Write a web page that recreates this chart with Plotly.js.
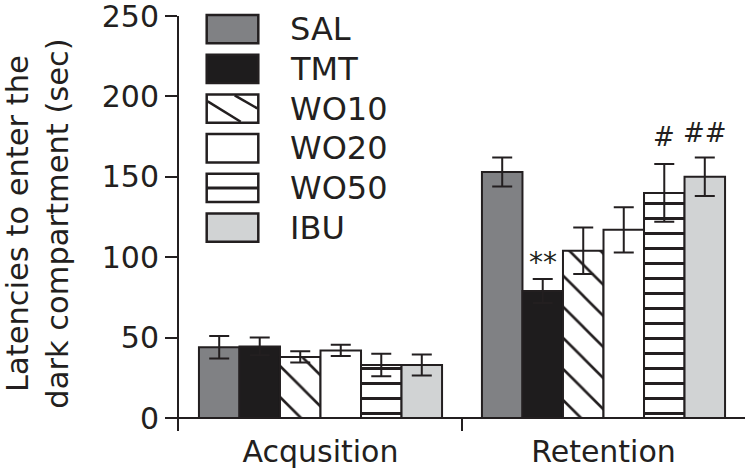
<!DOCTYPE html>
<html>
<head>
<meta charset="utf-8">
<script src="https://cdn.plot.ly/plotly-3.0.1.min.js"></script>
<style>html,body{margin:0;padding:0;background:#fff;}#chart{width:747px;height:472px;}</style>
</head>
<body>
<div id="chart"></div>
<script>
// ---- data ----
const categories = ['Acqusition', 'Retention'];
const groups = ['SAL', 'TMT', 'WO10', 'WO20', 'WO50', 'IBU'];
const SAL = [44, 153];
const SAL_err = [7, 9];
const TMT = [44.5, 79];
const TMT_err = [5.5, 7.5];
const WO10 = [38, 104];
const WO10_err = [3.5, 14.5];
const WO20 = [42, 117];
const WO20_err = [3.5, 14];
const WO50 = [33, 140];
const WO50_err = [7, 18];
const IBU = [33, 150];
const IBU_err = [6.5, 12];
const yTicks = [0, 50, 100, 150, 200, 250];
const sigLabels = ['**', '#', '##'];
const sigGroups = ['TMT', 'WO50', 'IBU'];
const sigCategory = ['Retention', 'Retention', 'Retention'];
const sigY = [97, 175, 177];

// ---- styling ----
const INK = '#231f20';
const FONT = 'DejaVu Sans, sans-serif';
const styles = {
  SAL:  {color: '#808184'},
  TMT:  {color: '#1e1c1d'},
  WO10: {color: '#ffffff', pattern: {shape: '\\', fgcolor: INK, bgcolor: '#ffffff', size: 22, solidity: 0.12, fillmode: 'replace'}},
  WO20: {color: '#ffffff'},
  WO50: {color: '#ffffff', pattern: {shape: '-', fgcolor: INK, bgcolor: '#ffffff', size: 15, solidity: 0.2, fillmode: 'replace'}},
  IBU:  {color: '#d1d3d4'}
};
const values = {SAL, TMT, WO10, WO20, WO50, IBU};
const errs = {SAL: SAL_err, TMT: TMT_err, WO10: WO10_err, WO20: WO20_err, WO50: WO50_err, IBU: IBU_err};

const traces = groups.map(g => {
  const m = {color: styles[g].color, line: {color: INK, width: 2}};
  if (styles[g].pattern) m.pattern = styles[g].pattern;
  return {
    type: 'bar', name: g, x: categories, y: values[g],
    marker: m,
    error_y: {type: 'data', array: errs[g], visible: true, color: INK, thickness: 2, width: 10},
    showlegend: false
  };
});

// plot area in pixels
const L = 179, R = 745, T = 16, B = 431;
const W = 747, H = 472;
const px2x = p => (p - L) / (R - L);
const py2y = p => (B - p) / (B - T);

const bargap = 0.141;
const barW = (1 - bargap) / groups.length;

const annotations = sigLabels.map((t, i) => ({
  xref: 'x', yref: 'y',
  x: categories.indexOf(sigCategory[i]) + (groups.indexOf(sigGroups[i]) - (groups.length - 1) / 2) * barW,
  y: sigY[i], text: t, showarrow: false,
  font: {family: FONT, size: t === '**' ? 28 : 26, color: INK},
  xanchor: 'center', yanchor: 'middle'
}));

// custom legend (large swatches like the reference)
const shapes = [];
const boxX0 = 206.7, boxX1 = 258.3, rowTop = 15, rowStep = 39.7, boxH = 28.3;
groups.forEach((g, i) => {
  const y0 = rowTop + i * rowStep, y1 = y0 + boxH;
  shapes.push({type: 'rect', xref: 'paper', yref: 'paper',
    x0: px2x(boxX0), x1: px2x(boxX1), y0: py2y(y1), y1: py2y(y0),
    fillcolor: styles[g].color, line: {color: INK, width: 2.5}});
  if (g === 'WO10') {
    shapes.push({type: 'line', xref: 'paper', yref: 'paper',
      x0: px2x(boxX0 + 1), y0: py2y(y0 + 7), x1: px2x(boxX0 + 34), y1: py2y(y1 - 1),
      line: {color: INK, width: 2.5}});
    shapes.push({type: 'line', xref: 'paper', yref: 'paper',
      x0: px2x(boxX0 + 28), y0: py2y(y0 + 1), x1: px2x(boxX1 - 1), y1: py2y(y0 + 14),
      line: {color: INK, width: 2.5}});
  }
  if (g === 'WO50') {
    shapes.push({type: 'line', xref: 'paper', yref: 'paper',
      x0: px2x(boxX0), y0: py2y(y0 + boxH / 2), x1: px2x(boxX1), y1: py2y(y0 + boxH / 2),
      line: {color: INK, width: 3}});
  }
  annotations.push({xref: 'paper', yref: 'paper', x: px2x(288), y: py2y(y0 + boxH / 2),
    text: g, showarrow: false, xanchor: 'left', yanchor: 'middle',
    font: {family: FONT, size: 32, color: INK}});
});

const layout = {
  width: W, height: H,
  margin: {l: L, r: W - R, t: T, b: H - B, pad: 0},
  paper_bgcolor: '#ffffff', plot_bgcolor: '#ffffff',
  barmode: 'group', bargap: bargap, bargroupgap: 0,
  showlegend: false,
  font: {family: FONT, size: 30, color: INK},
  xaxis: {
    type: 'category', showgrid: false, showline: false, zeroline: false,
    ticks: 'inside', tickson: 'boundaries', ticklen: 13, tickwidth: 2, tickcolor: INK,
    tickfont: {family: FONT, size: 30, color: INK},
    automargin: false
  },
  yaxis: {
    range: [-8.08, 250], tickvals: yTicks, showgrid: false,
    showline: true, linecolor: INK, linewidth: 2,
    zeroline: true, zerolinecolor: INK, zerolinewidth: 2,
    ticks: 'outside', ticklen: 12, tickwidth: 2, tickcolor: INK,
    ticklabeloverflow: 'allow',
    tickfont: {family: FONT, size: 30, color: INK},
    title: {text: 'Latencies to enter the<br>dark compartment (sec)', font: {family: FONT, size: 30.5, color: INK}, standoff: 27},
    automargin: false
  },
  shapes: shapes,
  annotations: annotations
};

Plotly.newPlot('chart', traces, layout, {staticPlot: true, displayModeBar: false});
</script>
</body>
</html>
